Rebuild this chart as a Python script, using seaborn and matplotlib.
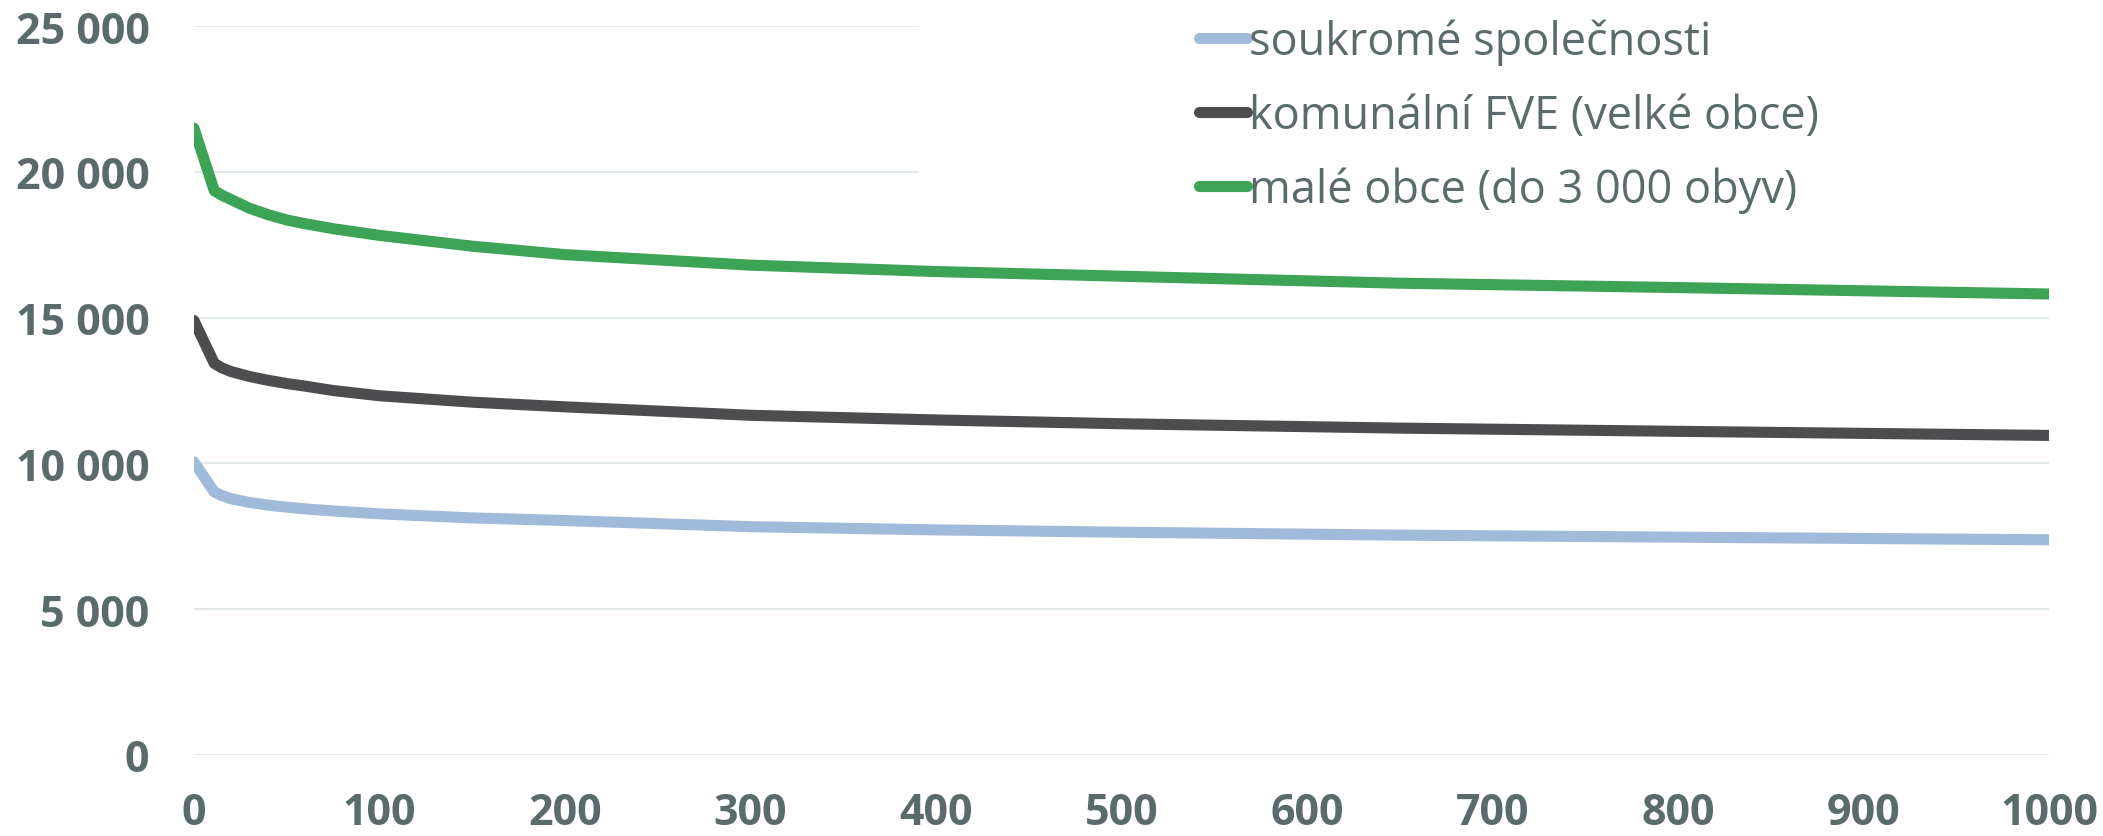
import pandas as pd
import matplotlib.pyplot as plt
import matplotlib.patches as mpatches
import seaborn as sns

# hodnoty
x_vals = [0, 11, 15, 20, 30, 40, 50, 60, 75, 100, 150, 200, 300, 400, 500, 650, 800, 1000]
soukrome = [10050, 9020, 8900, 8790, 8660, 8570, 8500, 8440, 8370, 8270, 8130, 8040, 7830, 7720, 7640, 7540, 7470, 7380]
komunalni = [14900, 13430, 13280, 13150, 12980, 12850, 12740, 12650, 12500, 12320, 12100, 11940, 11650, 11490, 11360, 11210, 11100, 10960]
male_obce = [21500, 19350, 19200, 19050, 18750, 18530, 18350, 18220, 18050, 17820, 17450, 17160, 16800, 16580, 16420, 16180, 16030, 15810]

series_names = ['soukromé společnosti', 'komunální FVE (velké obce)', 'malé obce (do 3 000 obyv)']
colors = ['#A0BBD9', '#4D4D4F', '#3DA356']

y_ticks = [0, 5000, 10000, 15000, 20000, 25000]
y_labels = ['0', '5 000', '10 000', '15 000', '20 000', '25 000']
x_ticks = [0, 100, 200, 300, 400, 500, 600, 700, 800, 900, 1000]

df = pd.DataFrame({
    'x': x_vals * 3,
    'value': soukrome + komunalni + male_obce,
    'serie': [series_names[0]] * len(x_vals) + [series_names[1]] * len(x_vals) + [series_names[2]] * len(x_vals),
})

sns.set_theme(style='white')
plt.rcParams['font.family'] = ['Open Sans', 'DejaVu Sans']
text_color = '#5B6B6B'

fig = plt.figure(figsize=(21.03, 8.37), dpi=100)
ax = fig.add_axes([0.0922, 0.0968, 0.8821, 0.8709])

sns.lineplot(data=df, x='x', y='value', hue='serie', hue_order=series_names,
             palette=colors, linewidth=8, ax=ax, legend=True)
for line in ax.get_lines():
    line.set_solid_capstyle('round')
    line.set_solid_joinstyle('round')

ax.set_xlim(0, 1000)
ax.set_ylim(0, 25000)
ax.set_yticks(y_ticks)
ax.set_yticklabels(y_labels)
ax.set_xticks(x_ticks)
ax.set_xlabel('')
ax.set_ylabel('')
ax.grid(axis='y', color='#E3E8E8', linewidth=1.5)
ax.set_axisbelow(True)
sns.despine(ax=ax, left=True, bottom=True)
ax.tick_params(axis='both', length=0, labelsize=31, labelcolor=text_color)
ax.tick_params(axis='y', pad=32)
ax.tick_params(axis='x', pad=26)
for lab in ax.get_xticklabels() + ax.get_yticklabels():
    lab.set_fontweight('bold')

# bile pozadi legendy prekryva mrizku
ax.add_patch(mpatches.Rectangle((0.391, 0.77), 0.62, 0.25, transform=ax.transAxes,
                                facecolor='white', edgecolor='none', zorder=1, clip_on=False))

handles, labels = ax.get_legend_handles_labels()
leg = ax.legend(handles, labels, loc='upper left', bbox_to_anchor=(0.5595, 1.004),
                bbox_transform=fig.transFigure, frameon=False, fontsize=32.5,
                handlelength=1.05, handletextpad=0.05, labelspacing=0.62, borderpad=0)
for t in leg.get_texts():
    t.set_color(text_color)
for h in leg.get_lines():
    h.set_linewidth(8)
    h.set_solid_capstyle('round')

fig.savefig('out.png', dpi=100)
